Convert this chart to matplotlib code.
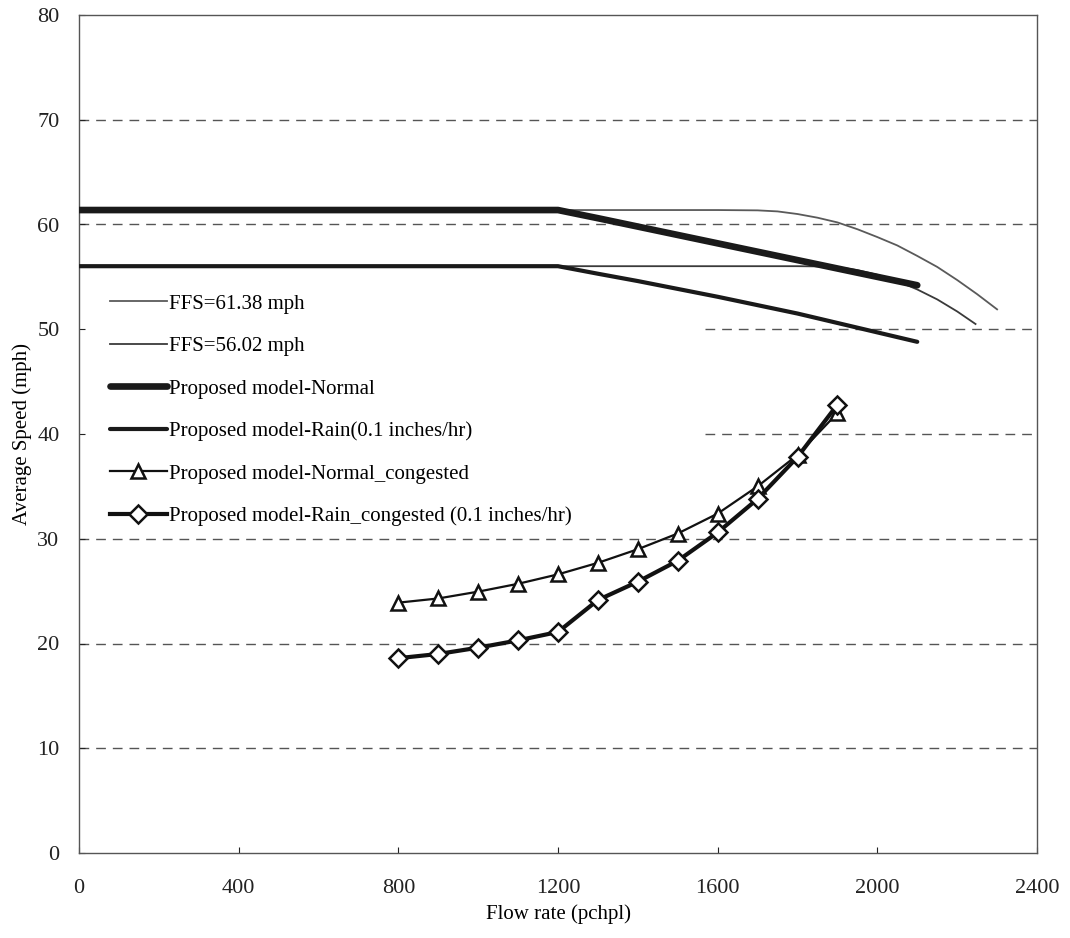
import matplotlib
matplotlib.use("Agg")
import matplotlib.pyplot as plt

plt.rcParams['font.family'] = ['Liberation Serif', 'DejaVu Serif']

# FFS = 61.38 mph speed-flow curve
ffs61_flow = [0, 1200, 1600, 1700, 1750, 1800, 1850, 1900, 1950, 2000, 2050, 2100, 2150, 2200, 2250, 2300]
ffs61_speed = [61.38, 61.38, 61.38, 61.35, 61.25, 61.0, 60.65, 60.2, 59.55, 58.8, 58.0, 57.0, 55.95, 54.7, 53.35, 51.9]

# FFS = 56.02 mph speed-flow curve
ffs56_flow = [0, 1200, 1800, 1850, 1900, 1950, 2000, 2050, 2100, 2150, 2200, 2246]
ffs56_speed = [56.02, 56.02, 56.02, 56.0, 55.93, 55.65, 55.2, 54.6, 53.8, 52.85, 51.7, 50.5]

# Proposed model - Normal
normal_flow = [0, 1200, 1300, 1400, 1500, 1600, 1700, 1800, 1900, 2000, 2100]
normal_speed = [61.38, 61.38, 60.6, 59.8, 59.0, 58.2, 57.4, 56.6, 55.8, 55.0, 54.2]

# Proposed model - Rain (0.1 inches/hr)
rain_flow = [0, 1200, 1300, 1400, 1500, 1600, 1700, 1800, 1900, 2000, 2100]
rain_speed = [56.02, 56.02, 55.3, 54.6, 53.85, 53.1, 52.3, 51.5, 50.6, 49.7, 48.8]

# Congested regimes
cong_flow = [800, 900, 1000, 1100, 1200, 1300, 1400, 1500, 1600, 1700, 1800, 1900]
normal_cong_speed = [23.9, 24.3, 24.95, 25.7, 26.6, 27.7, 29.0, 30.5, 32.4, 35.0, 38.0, 42.0]
rain_cong_speed = [18.6, 19.0, 19.6, 20.3, 21.1, 24.15, 25.9, 27.9, 30.6, 33.8, 37.8, 42.8]

labels = ["FFS=61.38 mph", "FFS=56.02 mph", "Proposed model-Normal",
          "Proposed model-Rain(0.1 inches/hr)", "Proposed model-Normal_congested",
          "Proposed model-Rain_congested (0.1 inches/hr)"]

x_ticks = [0, 400, 800, 1200, 1600, 2000, 2400]
y_ticks = [0, 10, 20, 30, 40, 50, 60, 70, 80]
grid_full = [10, 20, 30, 60, 70]
grid_partial = [40, 50]   # hidden behind legend area on the left

fig = plt.figure(figsize=(10.7, 9.38), dpi=100)
ax = fig.add_axes([79/1070, 1-853/938, (1037-79)/1070, (853-15)/938])

for yv in grid_full:
    ax.axhline(yv, color='#555555', lw=1.0, ls=(0, (7, 5)), zorder=1)
for yv in grid_partial:
    ax.axhline(yv, xmin=0.653, xmax=1.0, color='#555555', lw=1.0, ls=(0, (7, 5)), zorder=1)

ax.plot(ffs61_flow, ffs61_speed, color='#5a5a5a', lw=1.3, label=labels[0], zorder=3)
ax.plot(ffs56_flow, ffs56_speed, color='#3a3a3a', lw=1.3, label=labels[1], zorder=3)
ax.plot(normal_flow, normal_speed, color='#1a1a1a', lw=4.8, solid_capstyle='round', label=labels[2], zorder=4)
ax.plot(rain_flow, rain_speed, color='#1a1a1a', lw=3.0, solid_capstyle='round', label=labels[3], zorder=4)
ax.plot(cong_flow, normal_cong_speed, color='#111111', lw=1.6, marker='^', ms=10,
        mfc='white', mec='#111111', mew=1.8, label=labels[4], zorder=5)
ax.plot(cong_flow, rain_cong_speed, color='#111111', lw=3.0, marker='D', ms=9.5,
        mfc='white', mec='#111111', mew=1.8, label=labels[5], zorder=5)

ax.set_xlim(0, 2400)
ax.set_ylim(0, 80)
ax.set_xticks(x_ticks)
ax.set_yticks(y_ticks)
ax.tick_params(direction='in', length=4, width=0.8, labelsize=16, colors='#222222')
ax.tick_params(axis='y', pad=14)
ax.tick_params(axis='x', pad=19)
for s in ax.spines.values():
    s.set_color('#555555')
    s.set_linewidth(1.0)

ax.set_xlabel("Flow rate (pchpl)", fontsize=15, labelpad=4)
ax.set_ylabel("Average Speed (mph)", fontsize=15, labelpad=3.5)

leg = ax.legend(loc='upper left', bbox_to_anchor=(0.024, 0.677), fontsize=15,
                handlelength=2.7, handletextpad=0.1, labelspacing=1.1,
                frameon=False, borderaxespad=0, borderpad=0.4)

fig.savefig("out.png", dpi=100)
